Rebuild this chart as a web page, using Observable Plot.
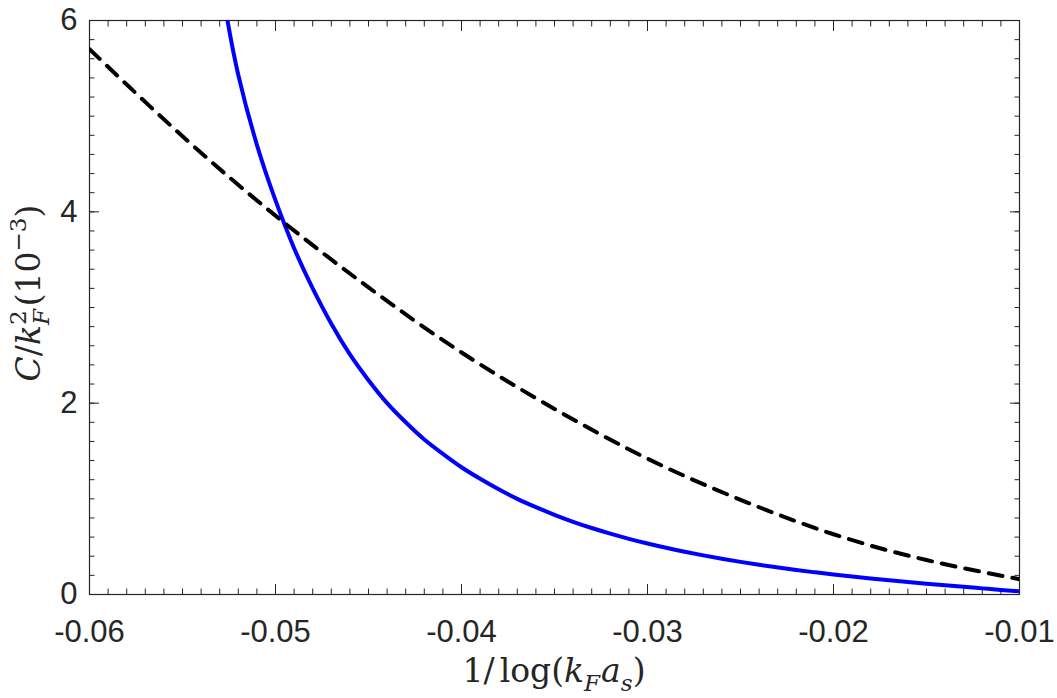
<!DOCTYPE html>
<html>
<head>
<meta charset="utf-8">
<script src="https://cdn.jsdelivr.net/npm/d3@7"></script>
<script src="https://cdn.jsdelivr.net/npm/@observablehq/plot@0.6"></script>
<style>
  body { margin: 0; background: #fff; }
  #chart svg { display: block; }
</style>
</head>
<body>
<div id="chart"></div>
<script>
// Axis ticks
const xTicks = [-0.06, -0.05, -0.04, -0.03, -0.02, -0.01];
const yTicks = [0, 2, 4, 6];

// Solid blue curve
const blueX = [-0.0526, -0.052, -0.051, -0.050, -0.049, -0.048, -0.047, -0.046, -0.045, -0.044,
               -0.043, -0.042, -0.041, -0.040, -0.039, -0.038, -0.037, -0.036, -0.035, -0.034,
               -0.033, -0.032, -0.031, -0.030, -0.029, -0.028, -0.027, -0.026, -0.025, -0.024,
               -0.023, -0.022, -0.021, -0.020, -0.019, -0.018, -0.017, -0.016, -0.015, -0.014,
               -0.013, -0.012, -0.011, -0.010];
const blueY = [6.02, 5.43, 4.70, 4.12, 3.62, 3.20, 2.83, 2.51, 2.24, 2.00,
               1.80, 1.62, 1.47, 1.33, 1.21, 1.10, 1.00, 0.913, 0.833, 0.760,
               0.695, 0.636, 0.582, 0.533, 0.488, 0.447, 0.409, 0.374, 0.341, 0.311,
               0.283, 0.256, 0.232, 0.209, 0.188, 0.168, 0.149, 0.131, 0.1135, 0.0965,
               0.080, 0.064, 0.048, 0.0325];

// Dashed black curve
const dashX = [-0.060, -0.055, -0.050, -0.045, -0.040, -0.035, -0.030, -0.025, -0.020, -0.015, -0.010];
const dashY = [5.70, 4.79, 3.96, 3.21, 2.53, 1.94, 1.42, 0.99, 0.63, 0.36, 0.16];

const blue = blueX.map((x, i) => ({x, y: blueY[i]}));
const dashed = dashX.map((x, i) => ({x, y: dashY[i]}));

// Minor ticks: every 0.001 on x, every 0.2 on y
const xMinor = d3.range(-60, -9).map(i => i / 1000);
const yMinor = d3.range(0, 31).map(i => i / 5);

const axisColor = "#262626";
const W = 1057, H = 698;

const chart = Plot.plot({
  width: W,
  height: H,
  marginLeft: 89,
  marginRight: 38,
  marginTop: 20,
  marginBottom: 104,
  style: {fontFamily: "'Liberation Sans', Arial, sans-serif", fontSize: "31px", color: axisColor, background: "#fff"},
  x: {domain: [-0.06, -0.01]},
  y: {domain: [0, 6]},
  marks: [
    // inward minor ticks on all four sides
    Plot.axisX(xMinor, {anchor: "bottom", tickSize: -5.5, tickFormat: () => null, label: null, stroke: axisColor}),
    Plot.axisX(xMinor, {anchor: "top", tickSize: -5.5, tickFormat: () => null, label: null, stroke: axisColor}),
    Plot.axisY(yMinor, {anchor: "left", tickSize: -5.5, tickFormat: () => null, label: null, stroke: axisColor}),
    Plot.axisY(yMinor, {anchor: "right", tickSize: -5.5, tickFormat: () => null, label: null, stroke: axisColor}),
    // inward major ticks
    Plot.axisX(xTicks, {anchor: "bottom", tickSize: -10, tickFormat: () => null, label: null, stroke: axisColor}),
    Plot.axisX(xTicks, {anchor: "top", tickSize: -10, tickFormat: () => null, label: null, stroke: axisColor}),
    Plot.axisY(yTicks, {anchor: "left", tickSize: -10, tickFormat: () => null, label: null, stroke: axisColor}),
    Plot.axisY(yTicks, {anchor: "right", tickSize: -10, tickFormat: () => null, label: null, stroke: axisColor}),
    // tick labels
    Plot.axisX(xTicks, {anchor: "bottom", tickSize: 0, tickPadding: 25, tickFormat: d => d.toFixed(2), label: null, fill: axisColor}),
    Plot.axisY(yTicks, {anchor: "left", tickSize: 0, tickPadding: 12, tickFormat: d => String(d), label: null, fill: axisColor}),
    Plot.frame({stroke: axisColor, strokeWidth: 1.2}),
    Plot.line(blue, {x: "x", y: "y", stroke: "#0000ff", strokeWidth: 4, curve: "natural", clip: true}),
    Plot.line(dashed, {x: "x", y: "y", stroke: "#000", strokeWidth: 4, strokeDasharray: "14,10", curve: "natural", clip: true})
  ]
});

document.getElementById("chart").appendChild(chart);

// Math-style axis titles built from tspans (sub/superscripts)
const svg = d3.select(chart);
const serif = "'DejaVu Serif', 'Liberation Serif', serif";
const fs = 33;

function addMath(g, parts) {
  const text = g.append("text")
    .attr("font-family", serif)
    .attr("font-size", fs)
    .attr("fill", axisColor)
    .attr("text-anchor", "middle");
  let shift = 0; // current baseline offset
  let lastLen = 0;
  for (const p of parts) {
    const size = p.script ? fs * 0.7 : fs;
    const target = p.script === "sub" ? fs * 0.28 : p.script === "sup" ? -fs * 0.42 : 0;
    const ts = text.append("tspan")
      .attr("font-size", size)
      .attr("font-style", p.italic ? "italic" : "normal")
      .attr("dy", target - shift)
      .text(p.t);
    if (p.back) ts.attr("dx", -lastLen);
    if (p.dx) ts.attr("dx", p.dx);
    shift = target;
    lastLen = ts.node().getComputedTextLength();
  }
  return text;
}

// x title: 1/log(k_F a_s)
const gx = svg.append("g").attr("transform", `translate(554,682)`);
addMath(gx, [
  {t: "1/"},
  {t: "log(", dx: 5},
  {t: "k", italic: true},
  {t: "F", italic: true, script: "sub"},
  {t: "a", italic: true, dx: 1},
  {t: "s", italic: true, script: "sub"},
  {t: ")"}
]);

// y title: C/k_F^2 (10^-3)
const gy = svg.append("g").attr("transform", `translate(40,293) rotate(-90)`);
addMath(gy, [
  {t: "C", italic: true},
  {t: "/"},
  {t: "k", italic: true},
  {t: "F", italic: true, script: "sub"},
  {t: "2", script: "sup", back: true},
  {t: "(10", dx: 4},
  {t: "\u22123", script: "sup"},
  {t: ")"}
]);
</script>
</body>
</html>
